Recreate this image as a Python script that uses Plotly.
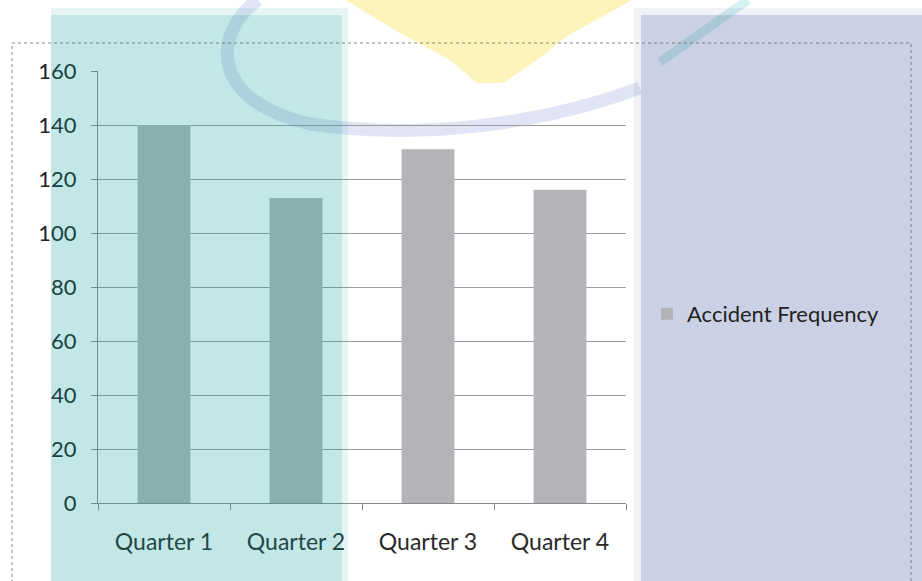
import plotly.graph_objects as go

W, H = 922, 581

categories = ["Quarter 1", "Quarter 2", "Quarter 3", "Quarter 4"]
accident_frequency = [140, 113, 131, 116]
y_ticks = [0, 20, 40, 60, 80, 100, 120, 140, 160]
series_name = "Accident Frequency"


def px(x):
    return x / W


def py(y):
    return 1 - y / H


def path(points, close=True):
    s = "M " + " L ".join(f"{px(x):.4f},{py(y):.4f}" for x, y in points)
    return s + (" Z" if close else "")


def cpath(segs):
    out = []
    for cmd, pts in segs:
        out.append(cmd + " " + " ".join(f"{px(x):.4f},{py(y):.4f}" for x, y in pts))
    return " ".join(out)


FONT = "Lato, 'Open Sans', sans-serif"

fig = go.Figure()
fig.add_trace(go.Bar(
    x=categories, y=accident_frequency, name=series_name,
    marker=dict(color="#b4b4b8", line=dict(width=0)),
    width=0.4, showlegend=True,
))

shapes = []
# yellow watermark wedge
shapes.append(dict(type="path", xref="paper", yref="paper",
                   path=path([(346, 0), (632, 0), (600, 18), (570, 34), (537, 60), (503, 83),
                              (477, 83), (450, 60), (400, 33), (365, 12)]),
                   fillcolor="rgb(253,243,180)", opacity=0.9, line=dict(width=0), layer="below"))
# blue watermark arc
shapes.append(dict(type="path", xref="paper", yref="paper",
                   path=cpath([("M", [(258, 0)]),
                               ("C", [(215, 30), (205, 100), (310, 124)]),
                               ("C", [(420, 140), (540, 125), (640, 88)])]),
                   line=dict(color="rgb(190,196,232)", width=13), opacity=0.45, layer="below"))
# teal watermark stroke
shapes.append(dict(type="path", xref="paper", yref="paper",
                   path=path([(748, 0), (660, 62)], close=False),
                   line=dict(color="rgb(150,225,225)", width=9), opacity=0.4, layer="below"))
# watermark blocks
shapes.append(dict(type="rect", xref="paper", yref="paper", x0=px(51), x1=px(348), y0=py(581), y1=py(8),
                   fillcolor="rgb(15,163,159)", opacity=0.10, line=dict(width=0), layer="above"))
shapes.append(dict(type="rect", xref="paper", yref="paper", x0=px(51), x1=px(342), y0=py(581), y1=py(15),
                   fillcolor="rgb(15,163,159)", opacity=0.17, line=dict(width=0), layer="above"))
shapes.append(dict(type="rect", xref="paper", yref="paper", x0=px(634), x1=px(922), y0=py(581), y1=py(8),
                   fillcolor="rgb(40,70,150)", opacity=0.07, line=dict(width=0), layer="below"))
shapes.append(dict(type="rect", xref="paper", yref="paper", x0=px(641), x1=px(922), y0=py(581), y1=py(15),
                   fillcolor="rgb(40,70,150)", opacity=0.19, line=dict(width=0), layer="below"))
# outer chart frame
shapes.append(dict(type="rect", xref="paper", yref="paper", x0=px(12), x1=px(911), y0=py(600), y1=py(43),
                   line=dict(color="rgba(90,90,90,0.7)", width=1, dash="dot"), fillcolor="rgba(0,0,0,0)",
                   layer="above"))

fig.update_layout(
    width=W, height=H,
    margin=dict(l=0, r=0, t=0, b=0, autoexpand=False),
    paper_bgcolor="white",
    plot_bgcolor="rgba(0,0,0,0)",
    font=dict(family=FONT, size=21, color="#222222"),
    bargap=0.6,
    shapes=shapes,
    showlegend=True,
    legend=dict(x=px(647), y=py(314), xanchor="left", yanchor="middle",
                bgcolor="rgba(0,0,0,0)", font=dict(size=22, color="#222222"),
                itemclick=False),
    xaxis=dict(domain=[px(98), px(626)], showgrid=False, showline=True, automargin=False,
               linecolor="#8a8a8a", linewidth=1, ticks="outside", tickson="boundaries",
               ticklen=6, tickcolor="#8a8a8a", ticklabelstandoff=18,
               tickfont=dict(size=23, color="#2a2a2a")),
    yaxis=dict(domain=[py(503), py(71)], range=[0, 160], tickvals=y_ticks, automargin=False,
               showgrid=True, gridcolor="#9c9c9c", gridwidth=1,
               showline=True, linecolor="#8a8a8a", linewidth=1, ticks="outside",
               ticklen=6, tickcolor="#8a8a8a", zeroline=False, ticklabelstandoff=10,
               tickfont=dict(size=22, color="#222222")),
)

fig.write_html("out.html")
